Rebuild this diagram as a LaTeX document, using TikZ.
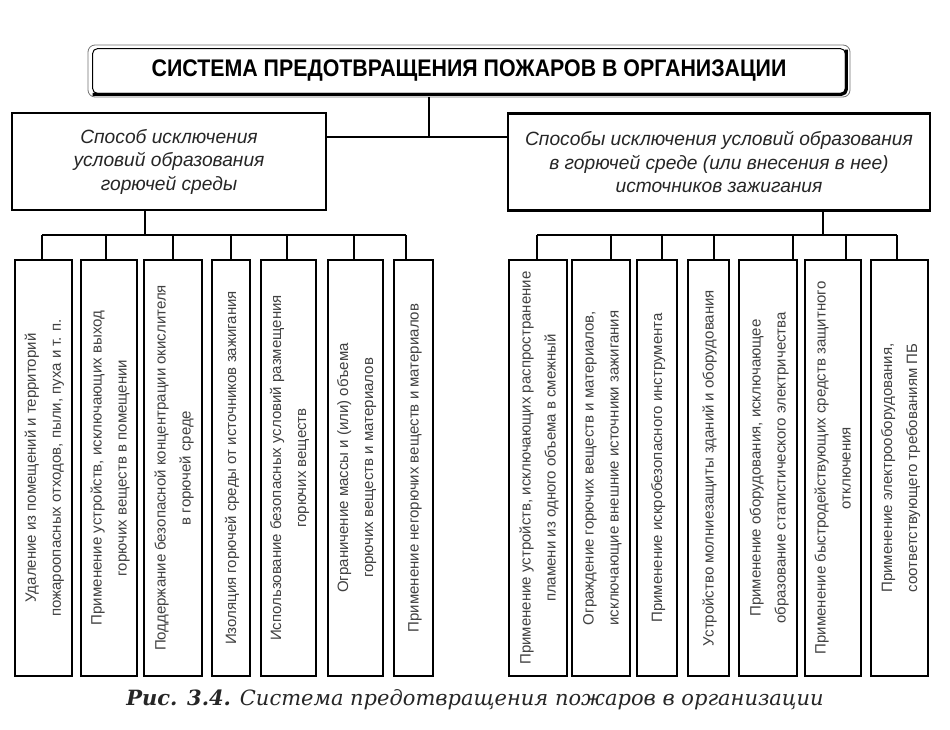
\documentclass[tikz,border=0pt]{standalone}
\usepackage{fontspec}
\setmainfont{Liberation Sans}
\newfontfamily\capfont{DejaVu Serif}
\newcommand\vtxt[1]{\rotatebox{90}{\begin{tabular}{@{}c@{}}#1\end{tabular}}}
\begin{document}
\begin{tikzpicture}[x=1pt,y=-1pt,
  titlebox/.style={draw=black!55, line width=0.8pt, rounded corners=7pt, minimum width=762pt, minimum height=52pt, inner sep=0pt, font=\fontsize{24}{28}\selectfont\bfseries},
  topbox/.style={draw, line width=2.4pt, minimum height=97pt, inner sep=0pt, align=center, font=\fontsize{19.2}{23.5}\selectfont\itshape, text=black!85},
  leaf/.style={draw, line width=1.3pt, minimum height=416pt, inner sep=0pt, font=\fontsize{15}{25}\selectfont, text=black!75},
  conn/.style={line width=1.1pt}]
\useasboundingbox[fill=white] (0,0) rectangle (950,730);

% title
\node[titlebox] (T) at (469,71) {\scalebox{0.89}[1]{СИСТЕМА ПРЕДОТВРАЩЕНИЯ ПОЖАРОВ В ОРГАНИЗАЦИИ}};
\draw[line width=1pt, rounded corners=5pt] ([shift={(5,4)}]T.north west) rectangle ([shift={(-5,-4)}]T.south east);
\draw[line width=3pt, rounded corners=5pt] ([shift={(5,-3)}]T.south west) -- ([shift={(-4,-3)}]T.south east) -- ([shift={(-4,5)}]T.north east);

% second level
\node[topbox, minimum width=314pt] (LT) at (169,161.5) {Способ исключения\\условий образования\\горючей среды};
\node[topbox, minimum width=422pt] (RT) at (719,162) {Способы исключения условий образования\\в горючей среде (или внесения в нее)\\источников зажигания};

\coordinate (tj) at (429,137);
\draw[conn] (tj) -- (tj |- T.south);
\draw[conn] (tj -| LT.east) -- (tj -| RT.west);

% left leaves
\node[leaf, minimum width=57pt] (L1) at (43.5,468) {\vtxt{Удаление из помещений и территорий\\пожароопасных отходов, пыли, пуха и т. п.}};
\node[leaf, minimum width=56pt] (L2) at (109,468) {\vtxt{Применение устройств, исключающих выход\\горючих веществ в помещении}};
\node[leaf, minimum width=58pt] (L3) at (173,468) {\vtxt{Поддержание безопасной концентрации окислителя\\в горючей среде}};
\node[leaf, minimum width=38pt] (L4) at (231,468) {\vtxt{Изоляция горючей среды от источников зажигания}};
\node[leaf, minimum width=55pt] (L5) at (288.5,468) {\vtxt{Использование безопасных условий размещения\\горючих веществ}};
\node[leaf, minimum width=55pt] (L6) at (355.5,468) {\vtxt{Ограничение массы и (или) объема\\горючих веществ и материалов}};
\node[leaf, minimum width=39pt] (L7) at (413.5,468) {\vtxt{Применение негорючих веществ и материалов}};

% right leaves
\node[leaf, minimum width=58pt] (R1) at (538,468) {\vtxt{Применение устройств, исключающих распространение\\пламени из одного объема в смежный}};
\node[leaf, minimum width=58pt] (R2) at (601,468) {\vtxt{Ограждение горючих веществ и материалов,\\исключающие внешние источники зажигания}};
\node[leaf, minimum width=40pt] (R3) at (657,468) {\vtxt{Применение искробезопасного инструмента}};
\node[leaf, minimum width=41pt] (R4) at (708.5,468) {\vtxt{Устройство молниезащиты зданий и оборудования}};
\node[leaf, minimum width=58pt] (R5) at (768,468) {\vtxt{Применение оборудования, исключающее\\образование статистического электричества}};
\node[leaf, minimum width=56pt] (R6) at (833,468) {\vtxt{Применение быстродействующих средств защитного\\отключения}};
\node[leaf, minimum width=57pt] (R7) at (899.5,468) {\vtxt{Применение электрооборудования,\\соответствующего требованиям ПБ}};

% left bus
\coordinate (jL) at (145,235);
\coordinate (dL1) at (42,235);
\coordinate (dL2) at (106,235);
\coordinate (dL3) at (173,235);
\coordinate (dL4) at (231,235);
\coordinate (dL5) at (287,235);
\coordinate (dL6) at (354,235);
\coordinate (dL7) at (406,235);
\draw[conn] (jL) -- (jL |- LT.south);
\draw[conn] (dL1) -- (dL7);
\foreach \i in {1,...,7} \draw[conn] (dL\i) -- (dL\i |- L\i.north);

% right bus
\coordinate (jR) at (823,235);
\coordinate (dR1) at (537,235);
\coordinate (dR2) at (611,235);
\coordinate (dR3) at (662,235);
\coordinate (dR4) at (714,235);
\coordinate (dR5) at (793,235);
\coordinate (dR6) at (846,235);
\coordinate (dR7) at (897,235);
\draw[conn] (jR) -- (jR |- RT.south);
\draw[conn] (dR1) -- (dR7);
\foreach \i in {1,...,7} \draw[conn] (dR\i) -- (dR\i |- R\i.north);

% caption
\node[font=\capfont\itshape\fontsize{21}{25}\selectfont, text=black!85] (cap) at (475,700) {\textbf{Рис. 3.4.} Система предотвращения пожаров в организации};
\end{tikzpicture}
\end{document}
